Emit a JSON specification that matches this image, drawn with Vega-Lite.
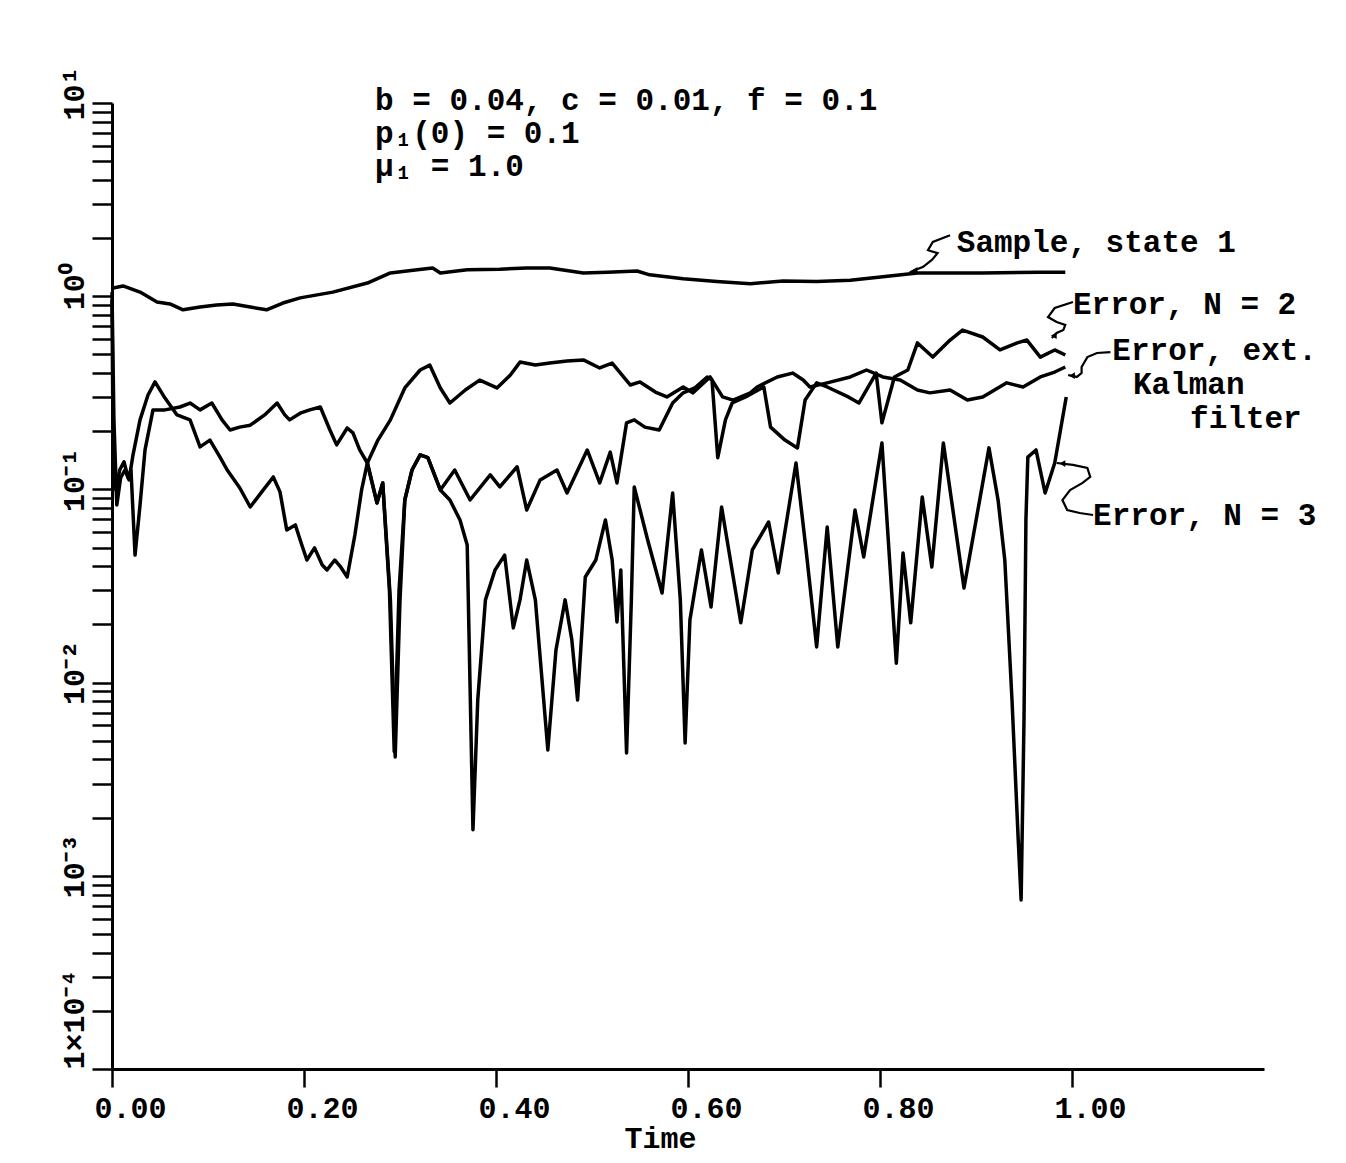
{
  "$schema": "https://vega.github.io/schema/vega-lite/v6.json",
  "width": 1152,
  "height": 966,
  "autosize": "none",
  "padding": {"left": 112, "top": 103, "right": 82, "bottom": 94},
  "background": "white",
  "config": {"view": {"stroke": null}, "font": "Liberation Mono"},
  "datasets": {
    "curves": [
      {"s": "Sample, state 1", "t": 0, "v": 1.10}, {"s": "Sample, state 1", "t": 0.0115, "v": 1.13}, {"s": "Sample, state 1", "t": 0.0292, "v": 1.05}, {"s": "Sample, state 1", "t": 0.0469, "v": 0.933}, {"s": "Sample, state 1", "t": 0.0604, "v": 0.912}, {"s": "Sample, state 1", "t": 0.074, "v": 0.85}, {"s": "Sample, state 1", "t": 0.0917, "v": 0.879}, {"s": "Sample, state 1", "t": 0.109, "v": 0.90}, {"s": "Sample, state 1", "t": 0.126, "v": 0.912}, {"s": "Sample, state 1", "t": 0.144, "v": 0.879}, {"s": "Sample, state 1", "t": 0.161, "v": 0.85}, {"s": "Sample, state 1", "t": 0.178, "v": 0.922}, {"s": "Sample, state 1", "t": 0.196, "v": 0.98}, {"s": "Sample, state 1", "t": 0.230, "v": 1.05}, {"s": "Sample, state 1", "t": 0.266, "v": 1.17}, {"s": "Sample, state 1", "t": 0.290, "v": 1.32}, {"s": "Sample, state 1", "t": 0.318, "v": 1.37}, {"s": "Sample, state 1", "t": 0.334, "v": 1.40}, {"s": "Sample, state 1", "t": 0.342, "v": 1.32}, {"s": "Sample, state 1", "t": 0.370, "v": 1.37}, {"s": "Sample, state 1", "t": 0.404, "v": 1.38}, {"s": "Sample, state 1", "t": 0.432, "v": 1.40}, {"s": "Sample, state 1", "t": 0.456, "v": 1.40}, {"s": "Sample, state 1", "t": 0.491, "v": 1.32}, {"s": "Sample, state 1", "t": 0.516, "v": 1.33}, {"s": "Sample, state 1", "t": 0.547, "v": 1.35}, {"s": "Sample, state 1", "t": 0.560, "v": 1.29}, {"s": "Sample, state 1", "t": 0.595, "v": 1.23}, {"s": "Sample, state 1", "t": 0.630, "v": 1.19}, {"s": "Sample, state 1", "t": 0.665, "v": 1.16}, {"s": "Sample, state 1", "t": 0.699, "v": 1.20}, {"s": "Sample, state 1", "t": 0.734, "v": 1.19}, {"s": "Sample, state 1", "t": 0.769, "v": 1.21}, {"s": "Sample, state 1", "t": 0.803, "v": 1.26}, {"s": "Sample, state 1", "t": 0.839, "v": 1.32}, {"s": "Sample, state 1", "t": 0.873, "v": 1.32}, {"s": "Sample, state 1", "t": 0.907, "v": 1.32}, {"s": "Sample, state 1", "t": 0.967, "v": 1.33}, {"s": "Sample, state 1", "t": 0.993, "v": 1.33},

      {"s": "Error, ext. Kalman filter", "t": 0, "v": 1.05}, {"s": "Error, ext. Kalman filter", "t": 0.002, "v": 0.229}, {"s": "Error, ext. Kalman filter", "t": 0.005, "v": 0.083}, {"s": "Error, ext. Kalman filter", "t": 0.009, "v": 0.115}, {"s": "Error, ext. Kalman filter", "t": 0.0135, "v": 0.126}, {"s": "Error, ext. Kalman filter", "t": 0.0177, "v": 0.112}, {"s": "Error, ext. Kalman filter", "t": 0.0219, "v": 0.151}, {"s": "Error, ext. Kalman filter", "t": 0.0292, "v": 0.229}, {"s": "Error, ext. Kalman filter", "t": 0.0375, "v": 0.308}, {"s": "Error, ext. Kalman filter", "t": 0.0448, "v": 0.360}, {"s": "Error, ext. Kalman filter", "t": 0.0552, "v": 0.297}, {"s": "Error, ext. Kalman filter", "t": 0.0677, "v": 0.243}, {"s": "Error, ext. Kalman filter", "t": 0.0813, "v": 0.229}, {"s": "Error, ext. Kalman filter", "t": 0.0917, "v": 0.166}, {"s": "Error, ext. Kalman filter", "t": 0.102, "v": 0.180}, {"s": "Error, ext. Kalman filter", "t": 0.1125, "v": 0.147}, {"s": "Error, ext. Kalman filter", "t": 0.120, "v": 0.126}, {"s": "Error, ext. Kalman filter", "t": 0.133, "v": 0.102}, {"s": "Error, ext. Kalman filter", "t": 0.144, "v": 0.0811}, {"s": "Error, ext. Kalman filter", "t": 0.156, "v": 0.0971}, {"s": "Error, ext. Kalman filter", "t": 0.168, "v": 0.116}, {"s": "Error, ext. Kalman filter", "t": 0.175, "v": 0.0971}, {"s": "Error, ext. Kalman filter", "t": 0.182, "v": 0.0617}, {"s": "Error, ext. Kalman filter", "t": 0.191, "v": 0.0655}, {"s": "Error, ext. Kalman filter", "t": 0.196, "v": 0.0547}, {"s": "Error, ext. Kalman filter", "t": 0.203, "v": 0.0431}, {"s": "Error, ext. Kalman filter", "t": 0.211, "v": 0.0498}, {"s": "Error, ext. Kalman filter", "t": 0.219, "v": 0.0406}, {"s": "Error, ext. Kalman filter", "t": 0.224, "v": 0.0383}, {"s": "Error, ext. Kalman filter", "t": 0.232, "v": 0.0431}, {"s": "Error, ext. Kalman filter", "t": 0.2375, "v": 0.0401}, {"s": "Error, ext. Kalman filter", "t": 0.245, "v": 0.0352}, {"s": "Error, ext. Kalman filter", "t": 0.253, "v": 0.0581}, {"s": "Error, ext. Kalman filter", "t": 0.260, "v": 0.0993}, {"s": "Error, ext. Kalman filter", "t": 0.266, "v": 0.137}, {"s": "Error, ext. Kalman filter", "t": 0.277, "v": 0.180}, {"s": "Error, ext. Kalman filter", "t": 0.290, "v": 0.229}, {"s": "Error, ext. Kalman filter", "t": 0.305, "v": 0.335}, {"s": "Error, ext. Kalman filter", "t": 0.321, "v": 0.415}, {"s": "Error, ext. Kalman filter", "t": 0.331, "v": 0.440}, {"s": "Error, ext. Kalman filter", "t": 0.342, "v": 0.335}, {"s": "Error, ext. Kalman filter", "t": 0.352, "v": 0.280}, {"s": "Error, ext. Kalman filter", "t": 0.368, "v": 0.327}, {"s": "Error, ext. Kalman filter", "t": 0.383, "v": 0.368}, {"s": "Error, ext. Kalman filter", "t": 0.401, "v": 0.335}, {"s": "Error, ext. Kalman filter", "t": 0.415, "v": 0.391}, {"s": "Error, ext. Kalman filter", "t": 0.425, "v": 0.456}, {"s": "Error, ext. Kalman filter", "t": 0.441, "v": 0.440}, {"s": "Error, ext. Kalman filter", "t": 0.456, "v": 0.451}, {"s": "Error, ext. Kalman filter", "t": 0.474, "v": 0.462}, {"s": "Error, ext. Kalman filter", "t": 0.491, "v": 0.468}, {"s": "Error, ext. Kalman filter", "t": 0.508, "v": 0.425}, {"s": "Error, ext. Kalman filter", "t": 0.521, "v": 0.451}, {"s": "Error, ext. Kalman filter", "t": 0.540, "v": 0.347}, {"s": "Error, ext. Kalman filter", "t": 0.550, "v": 0.360}, {"s": "Error, ext. Kalman filter", "t": 0.566, "v": 0.319}, {"s": "Error, ext. Kalman filter", "t": 0.578, "v": 0.301}, {"s": "Error, ext. Kalman filter", "t": 0.595, "v": 0.339}, {"s": "Error, ext. Kalman filter", "t": 0.605, "v": 0.316}, {"s": "Error, ext. Kalman filter", "t": 0.623, "v": 0.382}, {"s": "Error, ext. Kalman filter", "t": 0.636, "v": 0.301}, {"s": "Error, ext. Kalman filter", "t": 0.647, "v": 0.290}, {"s": "Error, ext. Kalman filter", "t": 0.665, "v": 0.316}, {"s": "Error, ext. Kalman filter", "t": 0.672, "v": 0.339}, {"s": "Error, ext. Kalman filter", "t": 0.693, "v": 0.382}, {"s": "Error, ext. Kalman filter", "t": 0.709, "v": 0.400}, {"s": "Error, ext. Kalman filter", "t": 0.720, "v": 0.368}, {"s": "Error, ext. Kalman filter", "t": 0.727, "v": 0.339}, {"s": "Error, ext. Kalman filter", "t": 0.745, "v": 0.356}, {"s": "Error, ext. Kalman filter", "t": 0.769, "v": 0.382}, {"s": "Error, ext. Kalman filter", "t": 0.786, "v": 0.415}, {"s": "Error, ext. Kalman filter", "t": 0.803, "v": 0.382}, {"s": "Error, ext. Kalman filter", "t": 0.821, "v": 0.368}, {"s": "Error, ext. Kalman filter", "t": 0.839, "v": 0.327}, {"s": "Error, ext. Kalman filter", "t": 0.852, "v": 0.316}, {"s": "Error, ext. Kalman filter", "t": 0.873, "v": 0.327}, {"s": "Error, ext. Kalman filter", "t": 0.891, "v": 0.290}, {"s": "Error, ext. Kalman filter", "t": 0.907, "v": 0.301}, {"s": "Error, ext. Kalman filter", "t": 0.932, "v": 0.356}, {"s": "Error, ext. Kalman filter", "t": 0.949, "v": 0.339}, {"s": "Error, ext. Kalman filter", "t": 0.967, "v": 0.382}, {"s": "Error, ext. Kalman filter", "t": 0.982, "v": 0.405}, {"s": "Error, ext. Kalman filter", "t": 0.993, "v": 0.430},

      {"s": "Error, N = 2", "t": 0, "v": 0.955}, {"s": "Error, N = 2", "t": 0.001, "v": 0.203}, {"s": "Error, N = 2", "t": 0.004, "v": 0.0993}, {"s": "Error, N = 2", "t": 0.008, "v": 0.126}, {"s": "Error, N = 2", "t": 0.0125, "v": 0.139}, {"s": "Error, N = 2", "t": 0.0167, "v": 0.115}, {"s": "Error, N = 2", "t": 0.0198, "v": 0.126}, {"s": "Error, N = 2", "t": 0.024, "v": 0.0457}, {"s": "Error, N = 2", "t": 0.0292, "v": 0.083}, {"s": "Error, N = 2", "t": 0.0344, "v": 0.160}, {"s": "Error, N = 2", "t": 0.0427, "v": 0.258}, {"s": "Error, N = 2", "t": 0.0552, "v": 0.258}, {"s": "Error, N = 2", "t": 0.0708, "v": 0.267}, {"s": "Error, N = 2", "t": 0.0813, "v": 0.280}, {"s": "Error, N = 2", "t": 0.0917, "v": 0.258}, {"s": "Error, N = 2", "t": 0.104, "v": 0.280}, {"s": "Error, N = 2", "t": 0.1146, "v": 0.229}, {"s": "Error, N = 2", "t": 0.123, "v": 0.203}, {"s": "Error, N = 2", "t": 0.133, "v": 0.210}, {"s": "Error, N = 2", "t": 0.144, "v": 0.215}, {"s": "Error, N = 2", "t": 0.159, "v": 0.243}, {"s": "Error, N = 2", "t": 0.172, "v": 0.280}, {"s": "Error, N = 2", "t": 0.180, "v": 0.243}, {"s": "Error, N = 2", "t": 0.185, "v": 0.229}, {"s": "Error, N = 2", "t": 0.196, "v": 0.248}, {"s": "Error, N = 2", "t": 0.206, "v": 0.258}, {"s": "Error, N = 2", "t": 0.217, "v": 0.267}, {"s": "Error, N = 2", "t": 0.227, "v": 0.203}, {"s": "Error, N = 2", "t": 0.234, "v": 0.170}, {"s": "Error, N = 2", "t": 0.245, "v": 0.208}, {"s": "Error, N = 2", "t": 0.251, "v": 0.196}, {"s": "Error, N = 2", "t": 0.258, "v": 0.160}, {"s": "Error, N = 2", "t": 0.266, "v": 0.137}, {"s": "Error, N = 2", "t": 0.276, "v": 0.0851}, {"s": "Error, N = 2", "t": 0.282, "v": 0.108}, {"s": "Error, N = 2", "t": 0.289, "v": 0.0300}, {"s": "Error, N = 2", "t": 0.294, "v": 0.00440}, {"s": "Error, N = 2", "t": 0.299, "v": 0.0300}, {"s": "Error, N = 2", "t": 0.305, "v": 0.0881}, {"s": "Error, N = 2", "t": 0.3125, "v": 0.126}, {"s": "Error, N = 2", "t": 0.321, "v": 0.151}, {"s": "Error, N = 2", "t": 0.329, "v": 0.146}, {"s": "Error, N = 2", "t": 0.342, "v": 0.0993}, {"s": "Error, N = 2", "t": 0.357, "v": 0.126}, {"s": "Error, N = 2", "t": 0.373, "v": 0.0881}, {"s": "Error, N = 2", "t": 0.394, "v": 0.119}, {"s": "Error, N = 2", "t": 0.404, "v": 0.103}, {"s": "Error, N = 2", "t": 0.422, "v": 0.131}, {"s": "Error, N = 2", "t": 0.432, "v": 0.0782}, {"s": "Error, N = 2", "t": 0.446, "v": 0.112}, {"s": "Error, N = 2", "t": 0.4635, "v": 0.126}, {"s": "Error, N = 2", "t": 0.474, "v": 0.0958}, {"s": "Error, N = 2", "t": 0.495, "v": 0.160}, {"s": "Error, N = 2", "t": 0.508, "v": 0.108}, {"s": "Error, N = 2", "t": 0.519, "v": 0.156}, {"s": "Error, N = 2", "t": 0.526, "v": 0.108}, {"s": "Error, N = 2", "t": 0.536, "v": 0.221}, {"s": "Error, N = 2", "t": 0.544, "v": 0.229}, {"s": "Error, N = 2", "t": 0.555, "v": 0.210}, {"s": "Error, N = 2", "t": 0.570, "v": 0.203}, {"s": "Error, N = 2", "t": 0.584, "v": 0.280}, {"s": "Error, N = 2", "t": 0.595, "v": 0.316}, {"s": "Error, N = 2", "t": 0.607, "v": 0.335}, {"s": "Error, N = 2", "t": 0.620, "v": 0.382}, {"s": "Error, N = 2", "t": 0.625, "v": 0.368}, {"s": "Error, N = 2", "t": 0.631, "v": 0.146}, {"s": "Error, N = 2", "t": 0.639, "v": 0.229}, {"s": "Error, N = 2", "t": 0.646, "v": 0.280}, {"s": "Error, N = 2", "t": 0.660, "v": 0.301}, {"s": "Error, N = 2", "t": 0.679, "v": 0.339}, {"s": "Error, N = 2", "t": 0.686, "v": 0.210}, {"s": "Error, N = 2", "t": 0.701, "v": 0.180}, {"s": "Error, N = 2", "t": 0.714, "v": 0.164}, {"s": "Error, N = 2", "t": 0.722, "v": 0.290}, {"s": "Error, N = 2", "t": 0.734, "v": 0.356}, {"s": "Error, N = 2", "t": 0.745, "v": 0.339}, {"s": "Error, N = 2", "t": 0.767, "v": 0.301}, {"s": "Error, N = 2", "t": 0.778, "v": 0.280}, {"s": "Error, N = 2", "t": 0.796, "v": 0.400}, {"s": "Error, N = 2", "t": 0.802, "v": 0.221}, {"s": "Error, N = 2", "t": 0.815, "v": 0.382}, {"s": "Error, N = 2", "t": 0.829, "v": 0.415}, {"s": "Error, N = 2", "t": 0.839, "v": 0.573}, {"s": "Error, N = 2", "t": 0.855, "v": 0.484}, {"s": "Error, N = 2", "t": 0.873, "v": 0.593}, {"s": "Error, N = 2", "t": 0.886, "v": 0.668}, {"s": "Error, N = 2", "t": 0.907, "v": 0.615}, {"s": "Error, N = 2", "t": 0.925, "v": 0.527}, {"s": "Error, N = 2", "t": 0.943, "v": 0.573}, {"s": "Error, N = 2", "t": 0.953, "v": 0.593}, {"s": "Error, N = 2", "t": 0.967, "v": 0.484}, {"s": "Error, N = 2", "t": 0.982, "v": 0.527}, {"s": "Error, N = 2", "t": 0.993, "v": 0.496},

      {"s": "Error, N = 3", "t": 0.266, "v": 0.137}, {"s": "Error, N = 3", "t": 0.276, "v": 0.0851}, {"s": "Error, N = 3", "t": 0.282, "v": 0.108}, {"s": "Error, N = 3", "t": 0.290, "v": 0.0268}, {"s": "Error, N = 3", "t": 0.295, "v": 0.00412}, {"s": "Error, N = 3", "t": 0.300, "v": 0.0268}, {"s": "Error, N = 3", "t": 0.305, "v": 0.0881}, {"s": "Error, N = 3", "t": 0.3125, "v": 0.126}, {"s": "Error, N = 3", "t": 0.321, "v": 0.151}, {"s": "Error, N = 3", "t": 0.329, "v": 0.146}, {"s": "Error, N = 3", "t": 0.342, "v": 0.0993}, {"s": "Error, N = 3", "t": 0.352, "v": 0.0881}, {"s": "Error, N = 3", "t": 0.3625, "v": 0.0695}, {"s": "Error, N = 3", "t": 0.370, "v": 0.0515}, {"s": "Error, N = 3", "t": 0.376, "v": 0.00173}, {"s": "Error, N = 3", "t": 0.381, "v": 0.00813}, {"s": "Error, N = 3", "t": 0.389, "v": 0.0268}, {"s": "Error, N = 3", "t": 0.399, "v": 0.0383}, {"s": "Error, N = 3", "t": 0.409, "v": 0.0457}, {"s": "Error, N = 3", "t": 0.418, "v": 0.0192}, {"s": "Error, N = 3", "t": 0.425, "v": 0.0268}, {"s": "Error, N = 3", "t": 0.432, "v": 0.0431}, {"s": "Error, N = 3", "t": 0.441, "v": 0.0268}, {"s": "Error, N = 3", "t": 0.454, "v": 0.00448}, {"s": "Error, N = 3", "t": 0.4625, "v": 0.0148}, {"s": "Error, N = 3", "t": 0.472, "v": 0.0268}, {"s": "Error, N = 3", "t": 0.479, "v": 0.0166}, {"s": "Error, N = 3", "t": 0.485, "v": 0.00813}, {"s": "Error, N = 3", "t": 0.493, "v": 0.0352}, {"s": "Error, N = 3", "t": 0.504, "v": 0.0431}, {"s": "Error, N = 3", "t": 0.514, "v": 0.0695}, {"s": "Error, N = 3", "t": 0.521, "v": 0.0431}, {"s": "Error, N = 3", "t": 0.526, "v": 0.0206}, {"s": "Error, N = 3", "t": 0.530, "v": 0.0383}, {"s": "Error, N = 3", "t": 0.536, "v": 0.00432}, {"s": "Error, N = 3", "t": 0.541, "v": 0.0268}, {"s": "Error, N = 3", "t": 0.544, "v": 0.103}, {"s": "Error, N = 3", "t": 0.558, "v": 0.0547}, {"s": "Error, N = 3", "t": 0.573, "v": 0.0291}, {"s": "Error, N = 3", "t": 0.584, "v": 0.0958}, {"s": "Error, N = 3", "t": 0.592, "v": 0.0268}, {"s": "Error, N = 3", "t": 0.597, "v": 0.00487}, {"s": "Error, N = 3", "t": 0.602, "v": 0.0211}, {"s": "Error, N = 3", "t": 0.614, "v": 0.0486}, {"s": "Error, N = 3", "t": 0.624, "v": 0.0246}, {"s": "Error, N = 3", "t": 0.635, "v": 0.0811}, {"s": "Error, N = 3", "t": 0.655, "v": 0.0204}, {"s": "Error, N = 3", "t": 0.667, "v": 0.0486}, {"s": "Error, N = 3", "t": 0.684, "v": 0.0678}, {"s": "Error, N = 3", "t": 0.694, "v": 0.0369}, {"s": "Error, N = 3", "t": 0.7125, "v": 0.137}, {"s": "Error, N = 3", "t": 0.723, "v": 0.0486}, {"s": "Error, N = 3", "t": 0.734, "v": 0.0153}, {"s": "Error, N = 3", "t": 0.745, "v": 0.0638}, {"s": "Error, N = 3", "t": 0.756, "v": 0.0153}, {"s": "Error, N = 3", "t": 0.774, "v": 0.0782}, {"s": "Error, N = 3", "t": 0.783, "v": 0.0447}, {"s": "Error, N = 3", "t": 0.802, "v": 0.174}, {"s": "Error, N = 3", "t": 0.810, "v": 0.0431}, {"s": "Error, N = 3", "t": 0.817, "v": 0.0126}, {"s": "Error, N = 3", "t": 0.824, "v": 0.0469}, {"s": "Error, N = 3", "t": 0.832, "v": 0.0204}, {"s": "Error, N = 3", "t": 0.844, "v": 0.0914}, {"s": "Error, N = 3", "t": 0.854, "v": 0.0397}, {"s": "Error, N = 3", "t": 0.866, "v": 0.174}, {"s": "Error, N = 3", "t": 0.8875, "v": 0.0309}, {"s": "Error, N = 3", "t": 0.9135, "v": 0.164}, {"s": "Error, N = 3", "t": 0.923, "v": 0.0881}, {"s": "Error, N = 3", "t": 0.930, "v": 0.0431}, {"s": "Error, N = 3", "t": 0.9375, "v": 0.00813}, {"s": "Error, N = 3", "t": 0.944, "v": 0.00153}, {"s": "Error, N = 3", "t": 0.947, "v": 0.00075}, {"s": "Error, N = 3", "t": 0.950, "v": 0.0064}, {"s": "Error, N = 3", "t": 0.952, "v": 0.0695}, {"s": "Error, N = 3", "t": 0.954, "v": 0.147}, {"s": "Error, N = 3", "t": 0.9625, "v": 0.160}, {"s": "Error, N = 3", "t": 0.972, "v": 0.0958}, {"s": "Error, N = 3", "t": 0.982, "v": 0.137}, {"s": "Error, N = 3", "t": 0.994, "v": 0.301}
    ],
    "pointers": [
      {"p": "sample", "k": 1, "t": 0.873, "v": 2.07}, {"p": "sample", "k": 2, "t": 0.855, "v": 1.91}, {"p": "sample", "k": 3, "t": 0.850, "v": 1.73}, {"p": "sample", "k": 4, "t": 0.860, "v": 1.67}, {"p": "sample", "k": 5, "t": 0.854, "v": 1.54}, {"p": "sample", "k": 6, "t": 0.845, "v": 1.42}, {"p": "sample", "k": 7, "t": 0.831, "v": 1.33},
      {"p": "n2", "k": 1, "t": 1.001, "v": 0.933}, {"p": "n2", "k": 2, "t": 0.982, "v": 0.869}, {"p": "n2", "k": 3, "t": 0.975, "v": 0.780}, {"p": "n2", "k": 4, "t": 0.984, "v": 0.735}, {"p": "n2", "k": 5, "t": 0.993, "v": 0.710}, {"p": "n2", "k": 6, "t": 0.991, "v": 0.668}, {"p": "n2", "k": 7, "t": 0.984, "v": 0.645}, {"p": "n2", "k": 8, "t": 0.979, "v": 0.608},
      {"p": "kalman", "k": 1, "t": 1.040, "v": 0.514}, {"p": "kalman", "k": 2, "t": 1.026, "v": 0.508}, {"p": "kalman", "k": 3, "t": 1.016, "v": 0.484}, {"p": "kalman", "k": 4, "t": 1.010, "v": 0.430}, {"p": "kalman", "k": 5, "t": 1.010, "v": 0.400}, {"p": "kalman", "k": 6, "t": 1.005, "v": 0.382}, {"p": "kalman", "k": 7, "t": 0.996, "v": 0.391},
      {"p": "n3", "k": 1, "t": 1.022, "v": 0.0737}, {"p": "n3", "k": 2, "t": 1.008, "v": 0.0755}, {"p": "n3", "k": 3, "t": 0.995, "v": 0.0782}, {"p": "n3", "k": 4, "t": 0.990, "v": 0.0881}, {"p": "n3", "k": 5, "t": 0.998, "v": 0.0993}, {"p": "n3", "k": 6, "t": 1.011, "v": 0.108}, {"p": "n3", "k": 7, "t": 1.019, "v": 0.116}, {"p": "n3", "k": 8, "t": 1.016, "v": 0.129}, {"p": "n3", "k": 9, "t": 1.001, "v": 0.134}, {"p": "n3", "k": 10, "t": 0.984, "v": 0.137}
    ],
    "tips": [
      {"p": "sample", "t": 0.836, "v": 1.36},
      {"p": "n2", "t": 0.981, "v": 0.625},
      {"p": "kalman", "t": 1.000, "v": 0.388},
      {"p": "n3", "t": 0.990, "v": 0.136}
    ],
    "labels": [
      {"text": "b = 0.04, c = 0.01, f = 0.1", "t": 0.274, "v": 9.2},
      {"text": "p₁(0) = 0.1", "t": 0.274, "v": 6.2},
      {"text": "μ₁ = 1.0", "t": 0.274, "v": 4.2},
      {"text": "Sample, state 1", "t": 0.880, "v": 1.69},
      {"text": "Error, N = 2", "t": 1.001, "v": 0.809},
      {"text": "Error, ext.", "t": 1.042, "v": 0.47},
      {"text": "Kalman", "t": 1.0635, "v": 0.312},
      {"text": "filter", "t": 1.123, "v": 0.207},
      {"text": "Error, N = 3", "t": 1.022, "v": 0.0655}
    ]
  },
  "layer": [
    {
      "data": {"name": "curves"},
      "mark": {"type": "line", "color": "black", "strokeWidth": 3.5, "strokeJoin": "round", "clip": false},
      "encoding": {
        "x": {
          "field": "t", "type": "quantitative",
          "scale": {"domain": [0, 1.2], "nice": false, "zero": false},
          "axis": {
            "values": [0, 0.2, 0.4, 0.6, 0.8, 1.0],
            "format": ".2f",
            "grid": false,
            "domainColor": "black", "domainWidth": 3,
            "tickColor": "black", "tickWidth": 2.5, "tickSize": 18,
            "labelFont": "Liberation Mono", "labelFontWeight": "bold", "labelFontSize": 30, "labelColor": "black",
            "labelPadding": 6,
            "labelOffset": 18,
            "labelFlush": false,
            "title": "Time",
            "titleFont": "Liberation Mono", "titleFontWeight": "bold", "titleFontSize": 30, "titleColor": "black",
            "titlePadding": 0,
            "titleX": 548,
            "titleAnchor": null,
            "titleAlign": "center"
          }
        },
        "y": {
          "field": "v", "type": "quantitative",
          "scale": {"type": "log", "domain": [0.0001, 10], "nice": false},
          "axis": {
            "values": [0.0001, 0.0002, 0.0003, 0.0004, 0.0005, 0.0006, 0.0007, 0.0008, 0.0009, 0.001, 0.002, 0.003, 0.004, 0.005, 0.006, 0.007, 0.008, 0.009, 0.01, 0.02, 0.03, 0.04, 0.05, 0.06, 0.07, 0.08, 0.09, 0.1, 0.2, 0.3, 0.4, 0.5, 0.6, 0.7, 0.8, 0.9, 1, 2, 3, 4, 5, 6, 7, 8, 9, 10],
            "labelExpr": "datum.value == 10 ? '10¹' : datum.value == 1 ? '10⁰' : datum.value == 0.1 ? '10⁻¹' : datum.value == 0.01 ? '10⁻²' : datum.value == 0.001 ? '10⁻³' : datum.value == 0.0001 ? '1×10⁻⁴' : ''",
            "grid": false,
            "title": null,
            "domainColor": "black", "domainWidth": 3,
            "tickColor": "black", "tickWidth": 2.5, "tickSize": 20,
            "labelFont": "Liberation Mono", "labelFontWeight": "bold", "labelFontSize": 30, "labelColor": "black",
            "labelAngle": 270,
            "labelAlign": {"condition": {"test": "datum.value < 0.00015", "value": "left"}, "value": "center"},
            "labelOffset": {"condition": {"test": "datum.value < 0.00015", "value": 0}, "value": -10},
            "labelBaseline": "bottom",
            "labelPadding": 3,
            "labelOverlap": false,
            "labelBound": false
          }
        },
        "detail": {"field": "s", "type": "nominal"}
      }
    },
    {
      "data": {"name": "pointers"},
      "mark": {"type": "line", "color": "black", "strokeWidth": 2.2, "clip": false},
      "encoding": {
        "x": {"field": "t", "type": "quantitative"},
        "y": {"field": "v", "type": "quantitative"},
        "detail": {"field": "p", "type": "nominal"},
        "order": {"field": "k", "type": "quantitative"}
      }
    },
    {
      "data": {"name": "tips"},
      "mark": {"type": "point", "shape": "triangle-left", "filled": true, "color": "black", "size": 45, "opacity": 1, "clip": false},
      "encoding": {
        "x": {"field": "t", "type": "quantitative"},
        "y": {"field": "v", "type": "quantitative"}
      }
    },
    {
      "data": {"name": "labels"},
      "mark": {"type": "text", "align": "left", "baseline": "alphabetic", "font": "Liberation Mono", "fontWeight": "bold", "fontSize": 31, "color": "black", "clip": false},
      "encoding": {
        "x": {"field": "t", "type": "quantitative"},
        "y": {"field": "v", "type": "quantitative"},
        "text": {"field": "text", "type": "nominal"}
      }
    }
  ]
}
